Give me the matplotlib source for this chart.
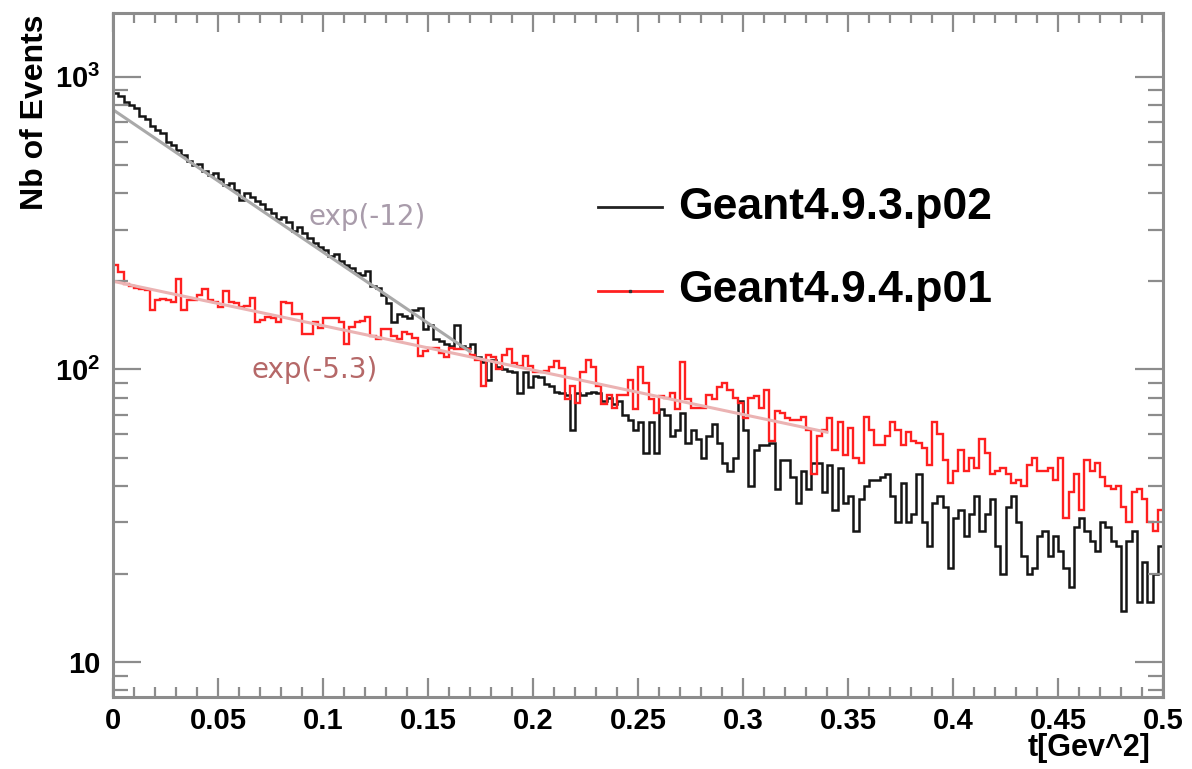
import numpy as np
import matplotlib
matplotlib.use("Agg")
import matplotlib.pyplot as plt
from matplotlib.lines import Line2D
from matplotlib.ticker import FixedLocator, FixedFormatter, MultipleLocator, NullFormatter, LogLocator, FuncFormatter

plt.rcParams['font.family'] = 'Liberation Sans'
plt.rcParams['font.weight'] = 'bold'
plt.rcParams['mathtext.fontset'] = 'custom'
plt.rcParams['mathtext.rm'] = 'Liberation Sans:bold'
plt.rcParams['mathtext.it'] = 'Liberation Sans:bold'
plt.rcParams['mathtext.bf'] = 'Liberation Sans:bold'

# histogram range, 200 bins of 0.0025 GeV^2
t_lo, t_hi = 0.0, 0.5
n_bins = 200

# Geant4.9.3.p02 counts per bin
g4_93 = [
    881, 858, 822, 800, 780, 733, 714, 677, 659, 640,
    600, 585, 560, 540, 515, 498, 505, 478, 462, 470,
    448, 425, 432, 410, 380, 402, 388, 376, 366, 352,
    342, 326, 332, 318, 298, 306, 292, 282, 270, 262,
    255, 244, 248, 234, 228, 222, 214, 210, 216, 192,
    190, 180, 168, 145, 155, 152, 150, 160, 162, 137,
    142, 127, 125, 122, 120, 142, 120, 118, 122, 110,
    106, 92, 108, 102, 100, 99, 98, 83, 98, 87,
    95, 94, 89, 88, 84, 83, 82, 62, 83, 82,
    83, 84, 83, 78, 80, 76, 78, 70, 67, 62,
    66, 52, 66, 52, 73, 70, 59, 62, 71, 56,
    62, 58, 50, 59, 65, 56, 48, 45, 50, 78,
    62, 40, 53, 55, 55, 56, 39, 49, 49, 43,
    35, 45, 39, 48, 48, 38, 47, 33, 46, 35,
    37, 28, 36, 40, 42, 42, 43, 44, 37, 30,
    41, 30, 32, 44, 30, 25, 35, 37, 34, 21,
    31, 33, 27, 32, 37, 28, 32, 36, 25, 20,
    34, 37, 30, 23, 20, 21, 27, 28, 23, 27,
    24, 21, 18, 29, 31, 28, 26, 24, 30, 29,
    26, 25, 15, 26, 28, 16, 22, 16, 20, 25,
]

# Geant4.9.4.p01 counts per bin
g4_94 = [
    228, 215, 195, 192, 190, 188, 186, 160, 172, 174,
    172, 170, 203, 160, 172, 173, 180, 188, 173, 170,
    163, 185, 170, 168, 163, 164, 176, 145, 148, 151,
    150, 145, 170, 168, 154, 155, 132, 132, 145, 139,
    150, 150, 150, 145, 122, 140, 145, 146, 151, 130,
    127, 137, 137, 130, 127, 134, 132, 128, 111, 116,
    118, 118, 114, 110, 118, 117, 117, 117, 112, 108,
    88, 112, 110, 100, 112, 117, 105, 103, 111, 103,
    98, 98, 99, 102, 107, 101, 79, 88, 77, 98,
    108, 102, 88, 76, 82, 74, 82, 82, 92, 73,
    102, 90, 79, 71, 81, 80, 83, 73, 106, 79,
    74, 74, 74, 82, 79, 87, 90, 85, 80, 77,
    68, 80, 81, 74, 85, 57, 72, 71, 68, 67,
    67, 69, 62, 44, 59, 62, 68, 53, 66, 51,
    63, 50, 48, 69, 62, 55, 55, 59, 66, 62,
    55, 61, 57, 56, 54, 47, 66, 60, 49, 41,
    45, 53, 45, 50, 46, 58, 52, 44, 45, 46,
    44, 41, 42, 40, 47, 50, 45, 45, 46, 42,
    50, 31, 38, 44, 33, 49, 45, 48, 43, 40,
    39, 40, 34, 30, 38, 39, 36, 30, 28, 33,
]

# exponential fits (straight on log axis), end points
fit_93_t = [0.0, 0.17]
fit_93_n = [771, 115]
fit_94_t = [0.0, 0.34]
fit_94_n = [200, 61]

labels = ['Geant4.9.3.p02', 'Geant4.9.4.p01']

W, H = 1192, 769
fig = plt.figure(figsize=(W / 100, H / 100), dpi=100)
ax = fig.add_axes([113 / W, 1 - 697 / H, 1050 / W, 684 / H])

edges = np.linspace(t_lo, t_hi, n_bins + 1)
ax.stairs(g4_93, edges, baseline=None, color='#151515', lw=1.8)
ax.plot(fit_93_t, fit_93_n, color='#a9a9a9', lw=2.2)
ax.stairs(g4_94, edges, baseline=None, color='#ff2020', lw=1.7)
ax.plot(fit_94_t, fit_94_n, color='#ebb3b3', lw=2.2)

ax.set_yscale('log')
ax.set_xlim(t_lo, t_hi)
ax.set_ylim(7.6, 1650)

ax.yaxis.set_major_locator(FixedLocator([10, 100, 1000]))
ax.yaxis.set_major_formatter(FixedFormatter(['10', r'$10^{2}$', r'$10^{3}$']))
ax.yaxis.set_minor_locator(LogLocator(base=10, subs=np.arange(2, 10), numticks=20))
ax.yaxis.set_minor_formatter(NullFormatter())
ax.xaxis.set_major_locator(MultipleLocator(0.05))
ax.xaxis.set_minor_locator(MultipleLocator(0.01))
ax.xaxis.set_major_formatter(FuncFormatter(lambda v, p: '%g' % round(v, 3)))

tick_col = '#8c8c8c'
ax.tick_params(which='both', direction='in', top=True, right=True, color=tick_col, width=1.6,
               labelsize=21)
ax.tick_params(axis='y', which='major', length=20, pad=9)
ax.tick_params(axis='y', which='minor', length=11)
ax.tick_params(axis='x', which='major', length=14, pad=7)
ax.tick_params(axis='x', which='minor', length=7)
for s in ax.spines.values():
    s.set_color(tick_col)
    s.set_linewidth(2.2)

fig.text(35 / W, 1 - 14 / H, 'Nb of Events', rotation=90, ha='center', va='top',
         fontsize=23, fontweight='bold')
fig.text(1150 / W, 1 - 763 / H, 't[Gev^2]', ha='right', va='bottom',
         fontsize=22, fontweight='bold')

# legend
ax.add_line(Line2D([0.462, 0.523], [0.716, 0.716], transform=ax.transAxes, color='#222222', lw=2))
ax.add_line(Line2D([0.462, 0.523], [0.594, 0.594], transform=ax.transAxes, color='#ff2020', lw=2))
ax.add_line(Line2D([0.4925], [0.594], transform=ax.transAxes, color='#333333',
                   marker='s', markersize=1.5, lw=0))
ax.text(0.538, 0.716, labels[0], transform=ax.transAxes, ha='left', va='center',
        fontsize=32, fontweight='bold')
ax.text(0.538, 0.594, labels[1], transform=ax.transAxes, ha='left', va='center',
        fontsize=32, fontweight='bold')

# fit labels
ax.text(0.186, 0.702, 'exp(-12)', transform=ax.transAxes, ha='left', va='center',
        fontsize=20, fontweight='normal', family='DejaVu Sans', color='#a99cab')
ax.text(0.132, 0.478, 'exp(-5.3)', transform=ax.transAxes, ha='left', va='center',
        fontsize=20, fontweight='normal', family='DejaVu Sans', color='#b56868')

fig.savefig('out.png', dpi=100)
